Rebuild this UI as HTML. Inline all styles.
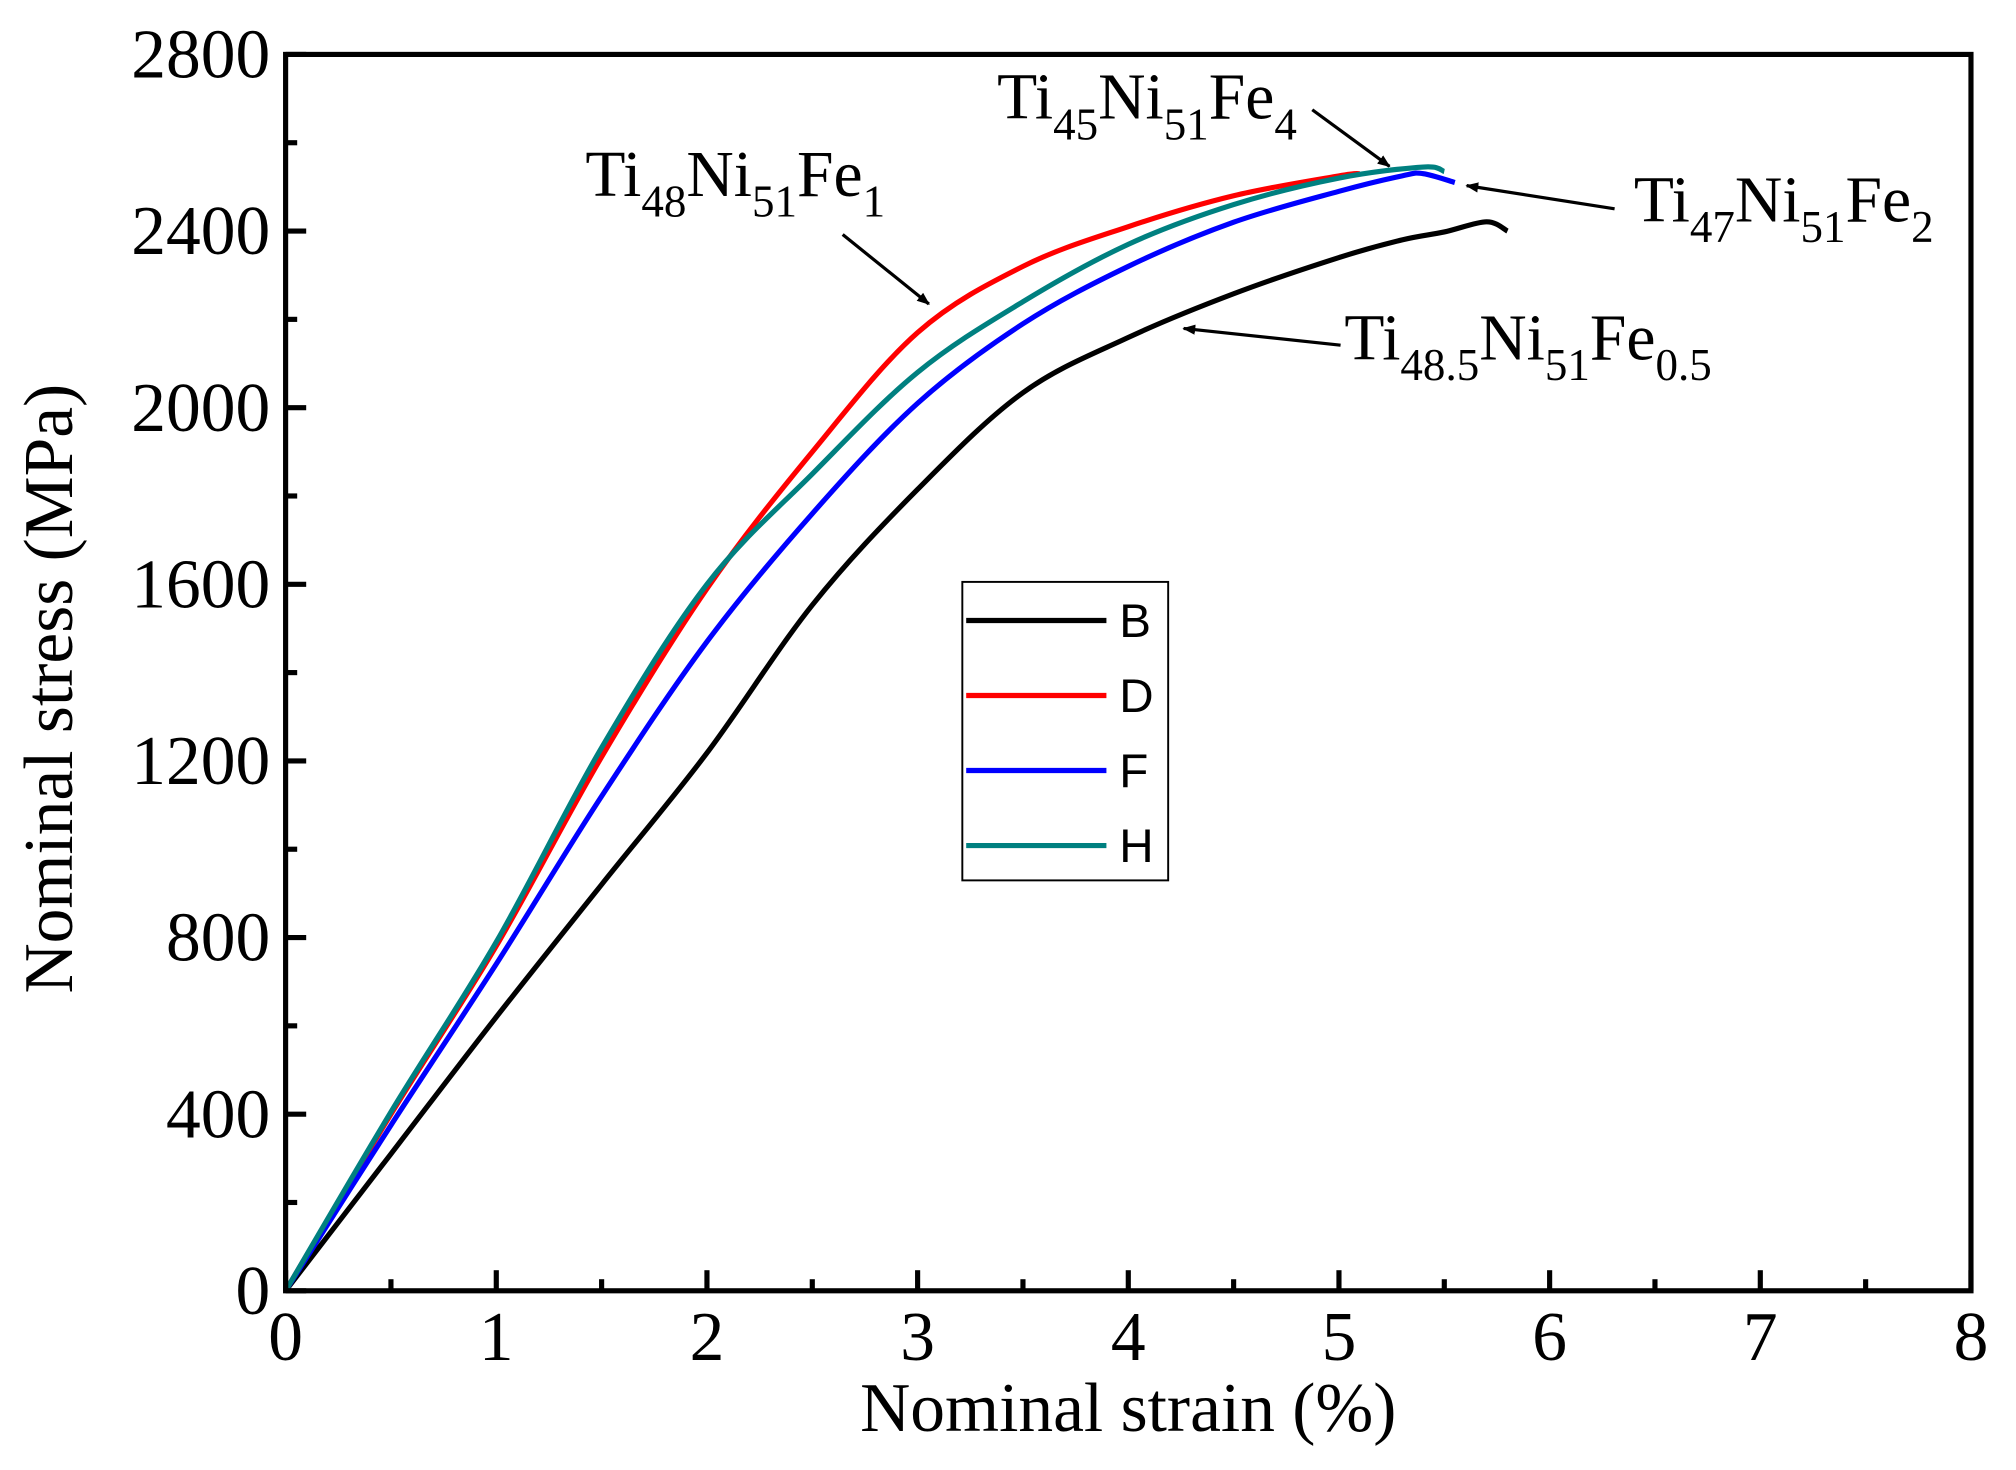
<!DOCTYPE html>
<html><head><meta charset="utf-8"><style>
html,body{margin:0;padding:0;background:#fff}
svg{display:block}
text{font-family:"Liberation Serif",serif;fill:#000}
</style></head><body>
<svg id="chart" width="2016" height="1470" viewBox="0 0 1567 1142" xmlns="http://www.w3.org/2000/svg">
<defs><marker id="ah" markerWidth="10" markerHeight="8" refX="9" refY="4" orient="auto" markerUnits="userSpaceOnUse"><path d="M0,0 L20,8 L0,16 z" transform="scale(0.5)" fill="#000"/></marker></defs>
<g id="plot"></g>
<g id="axes"></g>
<g>
<rect x="748" y="452" width="160" height="232" fill="#fff" stroke="#000" stroke-width="1.5"/>
</g>
<g id="legend-entries"></g>
<text x="877" y="1112" font-size="54" text-anchor="middle">Nominal strain (%)</text>
<text transform="translate(56,535) rotate(-90)" font-size="54" text-anchor="middle">Nominal stress (MPa)</text>
<g font-size="51">
<text x="455" y="152">Ti<tspan font-size="35" dy="16">48</tspan><tspan dy="-16">Ni</tspan><tspan font-size="35" dy="16">51</tspan><tspan dy="-16">Fe</tspan><tspan font-size="35" dy="16">1</tspan></text>
<text x="775" y="92">Ti<tspan font-size="35" dy="16">45</tspan><tspan dy="-16">Ni</tspan><tspan font-size="35" dy="16">51</tspan><tspan dy="-16">Fe</tspan><tspan font-size="35" dy="16">4</tspan></text>
<text x="1270" y="172">Ti<tspan font-size="35" dy="16">47</tspan><tspan dy="-16">Ni</tspan><tspan font-size="35" dy="16">51</tspan><tspan dy="-16">Fe</tspan><tspan font-size="35" dy="16">2</tspan></text>
<text x="1045" y="279">Ti<tspan font-size="35" dy="16">48.5</tspan><tspan dy="-16">Ni</tspan><tspan font-size="35" dy="16">51</tspan><tspan dy="-16">Fe</tspan><tspan font-size="35" dy="16">0.5</tspan></text>
</g>
<g stroke="#000" stroke-width="2.5" fill="none" marker-end="url(#ah)">
<line x1="655" y1="182" x2="722" y2="236"/>
<line x1="1020" y1="85" x2="1080" y2="129"/>
<line x1="1255" y1="162" x2="1140" y2="144"/>
<line x1="1042" y1="268" x2="920" y2="255"/>
</g>
</svg>
<script>
const strain = [0, 0.5, 1, 1.5, 2, 2.5, 3, 3.5, 4, 4.5, 5, 5.3, 5.5, 5.7, 5.8];
const stressB = [0, 310, 620, 920, 1218, 1553, 1815, 2034, 2159, 2258, 2340, 2380, 2398, 2421, 2400];
const strainD = [0, 0.5, 1, 1.5, 2, 2.5, 3, 3.5, 4, 4.5, 5, 5.1];
const stressD = [0, 400, 781, 1209, 1590, 1900, 2170, 2320, 2410, 2480, 2525, 2530];
const strainF = [0, 0.5, 1, 1.5, 2, 2.5, 3, 3.5, 4, 4.5, 5, 5.3, 5.4, 5.55];
const stressF = [0, 375, 740, 1120, 1470, 1760, 2010, 2190, 2320, 2420, 2490, 2525, 2530, 2510];
const strainH = [0, 0.5, 1, 1.5, 2, 2.5, 3, 3.5, 4, 4.5, 5, 5.4, 5.5];
const stressH = [0, 405, 790, 1230, 1600, 1850, 2080, 2240, 2370, 2460, 2520, 2545, 2535];
const xTicks = [0,1,2,3,4,5,6,7,8];
const yTicks = [0,400,800,1200,1600,2000,2400,2800];
const seriesNames = ["B","D","F","H"];
const seriesColors = ["#000000","#ff0000","#0000ff","#008080"];

const L=222,R=1532,T=42,B=1003;
const xs=v=>L+(v/8)*(R-L);
const ys=v=>B-(v/2800)*(B-T);
const NS="http://www.w3.org/2000/svg";
function mk(tag,parent){const e=document.createElementNS(NS,tag);parent.appendChild(e);return e;}
function smooth(pts){
  let d='M'+pts[0][0]+','+pts[0][1];
  for(let i=0;i<pts.length-1;i++){
    const p0=pts[Math.max(0,i-1)],p1=pts[i],p2=pts[i+1],p3=pts[Math.min(pts.length-1,i+2)];
    const c1=[p1[0]+(p2[0]-p0[0])/6,p1[1]+(p2[1]-p0[1])/6];
    const c2=[p2[0]-(p3[0]-p1[0])/6,p2[1]-(p3[1]-p1[1])/6];
    d+=' C'+c1[0]+','+c1[1]+' '+c2[0]+','+c2[1]+' '+p2[0]+','+p2[1];
  }
  return d;
}
const plot=document.getElementById('plot'),axes=document.getElementById('axes'),leg=document.getElementById('legend-entries');
const data=[[strain,stressB],[strainD,stressD],[strainF,stressF],[strainH,stressH]];
data.forEach((d,i)=>{
  const p=mk('path',plot);
  
  
  p.setAttribute('d',smooth(d[0].map((x,k)=>[xs(x),ys(d[1][k])])));
  p.setAttribute('fill','none');p.setAttribute('stroke',seriesColors[i]);p.setAttribute('stroke-width','4');p.setAttribute('stroke-linejoin','round');
  const y=482+i*58.3;
  const l=mk('line',leg);
  
  
  l.setAttribute('x1',751);l.setAttribute('x2',860);l.setAttribute('y1',y);l.setAttribute('y2',y);
  l.setAttribute('stroke',seriesColors[i]);l.setAttribute('stroke-width','4');
  const t=mk('text',leg);
  
  
  t.setAttribute('x',870);t.setAttribute('y',y+13);t.setAttribute('font-size','37');
  t.setAttribute('style','font-family:"Liberation Sans",sans-serif');
  t.textContent=seriesNames[i];
});
const frame=mk('rect',axes);


frame.setAttribute('x',L);frame.setAttribute('y',T);frame.setAttribute('width',R-L);frame.setAttribute('height',B-T);
frame.setAttribute('fill','none');frame.setAttribute('stroke','#000');frame.setAttribute('stroke-width','4');
function tick(x1,y1,x2,y2,name){const l=mk('line',axes);l.setAttribute('x1',x1);l.setAttribute('y1',y1);l.setAttribute('x2',x2);l.setAttribute('y2',y2);l.setAttribute('stroke','#000');l.setAttribute('stroke-width','4');}
xTicks.forEach((v,i)=>{
  tick(xs(v),B,xs(v),B-16,'x-tick');
  if(i<xTicks.length-1){const m=(v+xTicks[i+1])/2;tick(xs(m),B,xs(m),B-9,'x-minor-tick');}
  const t=mk('text',axes);
  
  
  t.setAttribute('x',xs(v));t.setAttribute('y',1057);t.setAttribute('font-size','54');t.setAttribute('text-anchor','middle');
  t.textContent=v;
});
yTicks.forEach((v,i)=>{
  tick(L,ys(v),L+16,ys(v),'y-tick');
  if(i<yTicks.length-1){const m=(v+yTicks[i+1])/2;tick(L,ys(m),L+9,ys(m),'y-minor-tick');}
  const t=mk('text',axes);
  
  
  t.setAttribute('x',210);t.setAttribute('y',ys(v)+18);t.setAttribute('font-size','54');t.setAttribute('text-anchor','end');
  t.textContent=v;
});
</script>
</body></html>
